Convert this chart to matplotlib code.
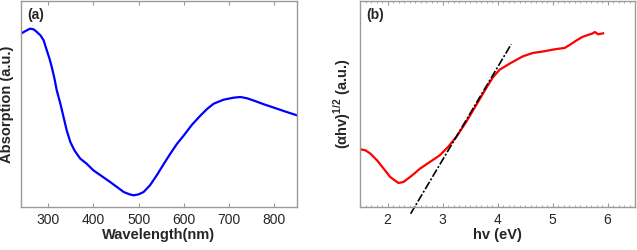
import matplotlib
matplotlib.use("Agg")
import matplotlib.pyplot as plt
from matplotlib.ticker import MultipleLocator

plt.rcParams['font.family'] = ['Liberation Sans', 'DejaVu Sans']
plt.rcParams['mathtext.fontset'] = 'custom'
plt.rcParams['mathtext.rm'] = 'Liberation Sans'
plt.rcParams['mathtext.bf'] = 'Liberation Sans:bold'

# (a) absorption spectrum
wavelength = [240, 250, 260, 268, 275, 283, 290, 297, 303, 308, 314, 319, 327, 334, 341, 349,
              358, 371, 385, 400, 418, 437, 452, 467, 480, 489, 500, 511, 525, 540, 555,
              570, 585, 600, 618, 637, 652, 666, 688, 710, 725, 740, 755, 777, 799, 825, 850]
absorption = [5.20, 5.28, 5.35, 5.33, 5.25, 5.15, 5.00, 4.70, 4.45, 4.20, 3.85, 3.50, 3.10,
              2.70, 2.30, 1.95, 1.70, 1.45, 1.30, 1.10, 0.93, 0.75, 0.60, 0.45, 0.38, 0.35,
              0.38, 0.45, 0.65, 0.95, 1.28, 1.60, 1.90, 2.15, 2.47, 2.75, 2.95, 3.10, 3.22,
              3.28, 3.30, 3.26, 3.19, 3.08, 2.98, 2.86, 2.75]

# (b) Tauc plot
energy = [1.51, 1.60, 1.69, 1.81, 1.93, 2.05, 2.13, 2.20, 2.29, 2.41, 2.50, 2.59, 2.77, 2.95,
          3.10, 3.25, 3.43, 3.61, 3.80, 3.92, 4.04, 4.22, 4.46, 4.64, 4.88, 5.00, 5.12, 5.22,
          5.30, 5.42, 5.54, 5.66, 5.72, 5.77, 5.83, 5.92]
tauc = [1.73, 1.70, 1.60, 1.40, 1.15, 0.90, 0.80, 0.72, 0.75, 0.90, 1.02, 1.15, 1.35, 1.55,
        1.80, 2.10, 2.55, 3.05, 3.58, 3.90, 4.12, 4.30, 4.52, 4.62, 4.68, 4.72, 4.75, 4.77,
        4.85, 4.98, 5.10, 5.17, 5.20, 5.25, 5.18, 5.21]

fit_x = [2.42, 4.25]
fit_slope = 2.78
fit_intercept = -6.93

gray = '#9a9a9a'
txt = '#262626'

fig = plt.figure(figsize=(6.37, 2.5), dpi=100)
ax1 = fig.add_axes([21 / 637, 1 - 207 / 250, 276 / 637, 206 / 250])
ax2 = fig.add_axes([360 / 637, 1 - 207 / 250, 275 / 637, 206 / 250])

ax1.plot(wavelength, absorption, color='#0000ff', lw=1.6)
ax1.set_xlim(240, 850)
ax1.set_ylim(0, 6.18)
ax1.set_xticks([300, 400, 500, 600, 700, 800])
ax1.set_xlabel('Wavelength(nm)', fontsize=10.5, fontweight='bold', color=txt, labelpad=1)
ax1.set_ylabel('Absorption (a.u.)', fontsize=10.5, fontweight='bold', color=txt, labelpad=5)
ax1.text(0.022, 0.965, '(a)', transform=ax1.transAxes, fontsize=10, fontweight='bold',
         va='top', ha='left', color=txt)

ax2.plot(energy, tauc, color='#ff0000', lw=1.6)
fy = [fit_slope * v + fit_intercept for v in fit_x]
ax2.plot(fit_x, fy, color='black', lw=1.2, ls=(0, (5, 1.2, 1.2, 1.2)), clip_on=False)
ax2.set_xlim(1.5, 6.5)
ax2.set_ylim(0, 6.18)
ax2.set_xticks([2, 3, 4, 5, 6])
ax2.xaxis.set_minor_locator(MultipleLocator(0.1))
ax2.set_xlabel('hv (eV)', fontsize=10.5, fontweight='bold', color=txt, labelpad=1)
ax2.set_ylabel('(\u03b1hv)$^{\\mathbf{1/2}}$ (a.u.)', fontsize=10.5, fontweight='bold',
               color=txt, labelpad=5)
ax2.text(0.022, 0.965, '(b)', transform=ax2.transAxes, fontsize=10, fontweight='bold',
         va='top', ha='left', color=txt)

for ax in (ax1, ax2):
    ax.set_yticks([])
    for s in ax.spines.values():
        s.set_color(gray)
        s.set_linewidth(1)
    ax.tick_params(axis='x', which='major', direction='in', top=True, length=3,
                   color=gray, labelsize=10, labelcolor=txt, pad=4)
    ax.tick_params(axis='x', which='minor', direction='in', top=True, length=1.5, color=gray)

fig.savefig('out.png', dpi=100)
